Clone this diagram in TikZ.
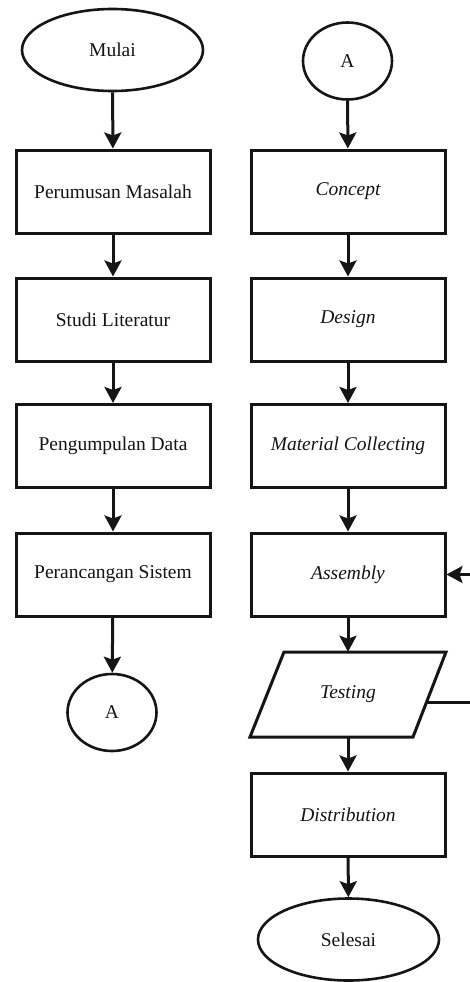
\documentclass[tikz,border=0pt]{standalone}
\usepackage{fontspec}
\setmainfont{Liberation Serif}
\usetikzlibrary{arrows.meta,shapes.geometric}
\definecolor{ink}{HTML}{151515}
\begin{document}
\begin{tikzpicture}[x=1pt,y=-1pt,
  every node/.style={font=\fontsize{19.5}{23}\selectfont, text=ink},
  procbox/.style={draw=ink, line width=3pt, rectangle, minimum width=194pt, minimum height=83pt, inner sep=0pt},
  termin/.style={draw=ink, line width=2.6pt, ellipse, minimum width=181pt, minimum height=82pt, inner sep=0pt},
  conn/.style={draw=ink, line width=2.6pt, ellipse, minimum width=89pt, minimum height=77pt, inner sep=0pt},
  flow/.style={draw=ink, line width=3pt, -{Stealth[length=16pt,width=17pt,inset=3pt]}},
  plain/.style={draw=ink, line width=3pt}
]
\useasboundingbox (0,0) rectangle (470,982);
\fill[white] (0,0) rectangle (470,982);

% left column
\node[termin] (mulai) at (112.5,50) {Mulai};
\node[procbox] (p1) at (113,191.5) {Perumusan Masalah};
\node[procbox] (p2) at (113,319.5) {Studi Literatur};
\node[procbox] (p3) at (113,446) {Pengumpulan Data};
\node[procbox] (p4) at (113,574.5) {Perancangan Sistem};
\node[conn] (a1) at (112,712.5) {A};

% right column
\node[conn] (a2) at (347.5,61) {A};
\node[procbox] (c1) at (348,191.5) {\itshape Concept};
\node[procbox] (c2) at (348,319.5) {\itshape Design};
\node[procbox] (c3) at (348,446) {\itshape Material Collecting};
\node[procbox] (c4) at (348,574.5) {\itshape Assembly};
\draw[draw=ink, line width=3pt, line join=miter] (284,652) -- (446,652) -- (413,737) -- (250,737) -- cycle;
\node[minimum width=196pt, minimum height=85pt, inner sep=0pt] (test) at (348,694.5) {\itshape Testing};
\node[procbox] (c5) at (348,814.5) {\itshape Distribution};
\node[termin] (selesai) at (348.5,939.5) {Selesai};

\coordinate (fb) at (427,702);
\coordinate (fbc) at (478,702);

% connectors
\draw[flow] (mulai) -- (p1);
\draw[flow] (p1) -- (p2);
\draw[flow] (p2) -- (p3);
\draw[flow] (p3) -- (p4);
\draw[flow] (p4) -- (a1);

\draw[flow] (a2) -- (c1);
\draw[flow] (c1) -- (c2);
\draw[flow] (c2) -- (c3);
\draw[flow] (c3) -- (c4);
\draw[flow] (c4) -- (test.north);
\draw[flow] (test.south) -- (c5);
\draw[flow] (c5) -- (selesai);
\draw[flow] (fb) -- (fbc) |- (c4.east);
\end{tikzpicture}
\end{document}
